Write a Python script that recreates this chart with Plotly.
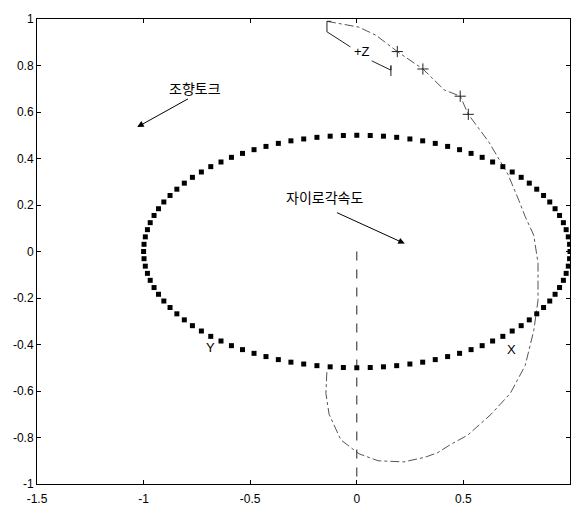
import plotly.graph_objects as go

# Dotted ellipse (gyro angular velocity locus)
ellipse_x = [1.000, 0.998, 0.992, 0.982, 0.969, 0.951, 0.930, 0.905, 0.876, 0.844, 0.809, 0.771, 0.729, 0.685, 0.637, 0.588, 0.536, 0.482, 0.426, 0.368, 0.309, 0.249, 0.187, 0.125, 0.063,
             0.000, -0.063, -0.125, -0.187, -0.249, -0.309, -0.368, -0.426, -0.482, -0.536, -0.588, -0.637, -0.685, -0.729, -0.771, -0.809, -0.844, -0.876, -0.905, -0.930, -0.951, -0.969, -0.982, -0.992, -0.998,
             -1.000, -0.998, -0.992, -0.982, -0.969, -0.951, -0.930, -0.905, -0.876, -0.844, -0.809, -0.771, -0.729, -0.685, -0.637, -0.588, -0.536, -0.482, -0.426, -0.368, -0.309, -0.249, -0.187, -0.125, -0.063,
             0.000, 0.063, 0.125, 0.187, 0.249, 0.309, 0.368, 0.426, 0.482, 0.536, 0.588, 0.637, 0.685, 0.729, 0.771, 0.809, 0.844, 0.876, 0.905, 0.930, 0.951, 0.969, 0.982, 0.992, 0.998]
ellipse_y = [0.000, 0.031, 0.063, 0.094, 0.124, 0.155, 0.184, 0.213, 0.241, 0.268, 0.294, 0.319, 0.342, 0.365, 0.385, 0.405, 0.422, 0.438, 0.452, 0.465, 0.476, 0.484, 0.491, 0.496, 0.499,
             0.500, 0.499, 0.496, 0.491, 0.484, 0.476, 0.465, 0.452, 0.438, 0.422, 0.405, 0.385, 0.365, 0.342, 0.319, 0.294, 0.268, 0.241, 0.213, 0.184, 0.155, 0.124, 0.094, 0.063, 0.031,
             0.000, -0.031, -0.063, -0.094, -0.124, -0.155, -0.184, -0.213, -0.241, -0.268, -0.294, -0.319, -0.342, -0.365, -0.385, -0.405, -0.422, -0.438, -0.452, -0.465, -0.476, -0.484, -0.491, -0.496, -0.499,
             -0.500, -0.499, -0.496, -0.491, -0.484, -0.476, -0.465, -0.452, -0.438, -0.422, -0.405, -0.385, -0.365, -0.342, -0.319, -0.294, -0.268, -0.241, -0.213, -0.184, -0.155, -0.124, -0.094, -0.063, -0.031]

# Dash-dot locus (steering torque path)
path_x = [-0.14, 0.01, 0.09, 0.19, 0.31, 0.41, 0.485, 0.523, 0.62, 0.66, 0.71, 0.76, 0.79, 0.83, 0.85, 0.85, 0.83, 0.79, 0.72, 0.63, 0.52, 0.44, 0.38, 0.32, 0.22, 0.10, 0.01, -0.075, -0.13, -0.145, -0.14]
path_y = [0.99, 0.965, 0.93, 0.86, 0.785, 0.695, 0.668, 0.59, 0.47, 0.405, 0.33, 0.22, 0.15, 0.07, -0.05, -0.21, -0.34, -0.49, -0.61, -0.70, -0.79, -0.83, -0.865, -0.885, -0.905, -0.90, -0.87, -0.81, -0.70, -0.61, -0.51]

# '+' markers on the upper part of the locus
plus_x = [0.19, 0.31, 0.485, 0.523]
plus_y = [0.86, 0.785, 0.668, 0.59]

# Z-axis indicator segments
zind_a_x = [-0.12, -0.14, -0.14, -0.03]
zind_a_y = [0.99, 0.99, 0.945, 0.88]
zind_b_x = [0.07, 0.16, 0.16, 0.16]
zind_b_y = [0.82, 0.78, 0.80, 0.755]

# Vertical dashed line
vline_x = [0.0, 0.0]
vline_y = [0.0, -1.0]

x_ticks = [-1.5, -1, -0.5, 0, 0.5, 1]
x_tick_text = ["-1.5", "-1", "-0.5", "0", "0.5", "1"]
y_ticks = [-1, -0.8, -0.6, -0.4, -0.2, 0, 0.2, 0.4, 0.6, 0.8, 1]
y_tick_text = ["-1", "-0.8", "-0.6", "-0.4", "-0.2", "0", "0.2", "0.4", "0.6", "0.8", "1"]

fig = go.Figure()
fig.add_trace(go.Scatter(x=path_x, y=path_y, mode="lines",
                         line=dict(color="#555", width=1, dash="dashdot"), hoverinfo="skip"))
fig.add_trace(go.Scatter(x=plus_x, y=plus_y, mode="markers",
                         marker=dict(symbol="cross-thin", size=8, line=dict(color="#222", width=1))))
fig.add_trace(go.Scatter(x=vline_x, y=vline_y, mode="lines",
                         line=dict(color="#222", width=1, dash="dash")))
fig.add_trace(go.Scatter(x=zind_a_x, y=zind_a_y, mode="lines",
                         line=dict(color="#222", width=1)))
fig.add_trace(go.Scatter(x=zind_b_x, y=zind_b_y, mode="lines",
                         line=dict(color="#222", width=1)))
fig.add_trace(go.Scatter(x=ellipse_x, y=ellipse_y, mode="markers",
                         marker=dict(symbol="square", size=5, color="black")))

font_tick = dict(family="Liberation Sans, Arial, sans-serif", size=12, color="black")
font_kr = dict(family="Noto Sans CJK KR, sans-serif", size=14, color="black")
font_lbl = dict(family="Liberation Sans, Arial, sans-serif", size=13, color="black")

annotations = [
    dict(x=-1.03, y=0.535, ax=-0.785, ay=0.66, axref="x", ayref="y",
         showarrow=True, arrowhead=2, arrowsize=1.3, arrowwidth=1, arrowcolor="black", text=""),
    dict(x=-0.76, y=0.705, text="조향토크", showarrow=False, font=font_kr),
    dict(x=0.225, y=0.034, ax=-0.10, ay=0.17, axref="x", ayref="y",
         showarrow=True, arrowhead=2, arrowsize=1.3, arrowwidth=1, arrowcolor="black", text=""),
    dict(x=-0.15, y=0.235, text="자이로각속도", showarrow=False, font=font_kr),
    dict(x=0.025, y=0.862, text="+Z", showarrow=False, font=font_lbl),
    dict(x=-0.684, y=-0.415, text="Y", showarrow=False, font=font_lbl),
    dict(x=0.724, y=-0.423, text="X", showarrow=False, font=font_lbl),
]
for a in annotations:
    a["xref"] = "x"
    a["yref"] = "y"

fig.update_layout(
    width=573, height=508,
    margin=dict(l=37, r=2, t=19, b=21),
    paper_bgcolor="white", plot_bgcolor="white",
    showlegend=False,
    annotations=annotations,
    xaxis=dict(range=[-1.5, 1], tickvals=x_ticks, ticktext=x_tick_text, ticks="inside", ticklen=4,
               showline=True, linecolor="black", linewidth=1, mirror="allticks", showgrid=False,
               zeroline=False, tickfont=font_tick, tickcolor="black", ticklabelstandoff=4),
    yaxis=dict(range=[-1, 1], tickvals=y_ticks, ticktext=y_tick_text, ticks="inside", ticklen=4,
               showline=True, linecolor="black", linewidth=1, mirror="allticks", showgrid=False,
               zeroline=False, tickfont=font_tick, tickcolor="black"),
)

fig.write_html("out.html", config={"displayModeBar": False})

# remove the default page margin so the figure sits at the window's top-left corner
with open("out.html", "r", encoding="utf-8") as f:
    html = f.read()
html = html.replace("<head>", "<head><style>html,body{margin:0;padding:0;overflow:hidden;}</style>", 1)
with open("out.html", "w", encoding="utf-8") as f:
    f.write(html)
